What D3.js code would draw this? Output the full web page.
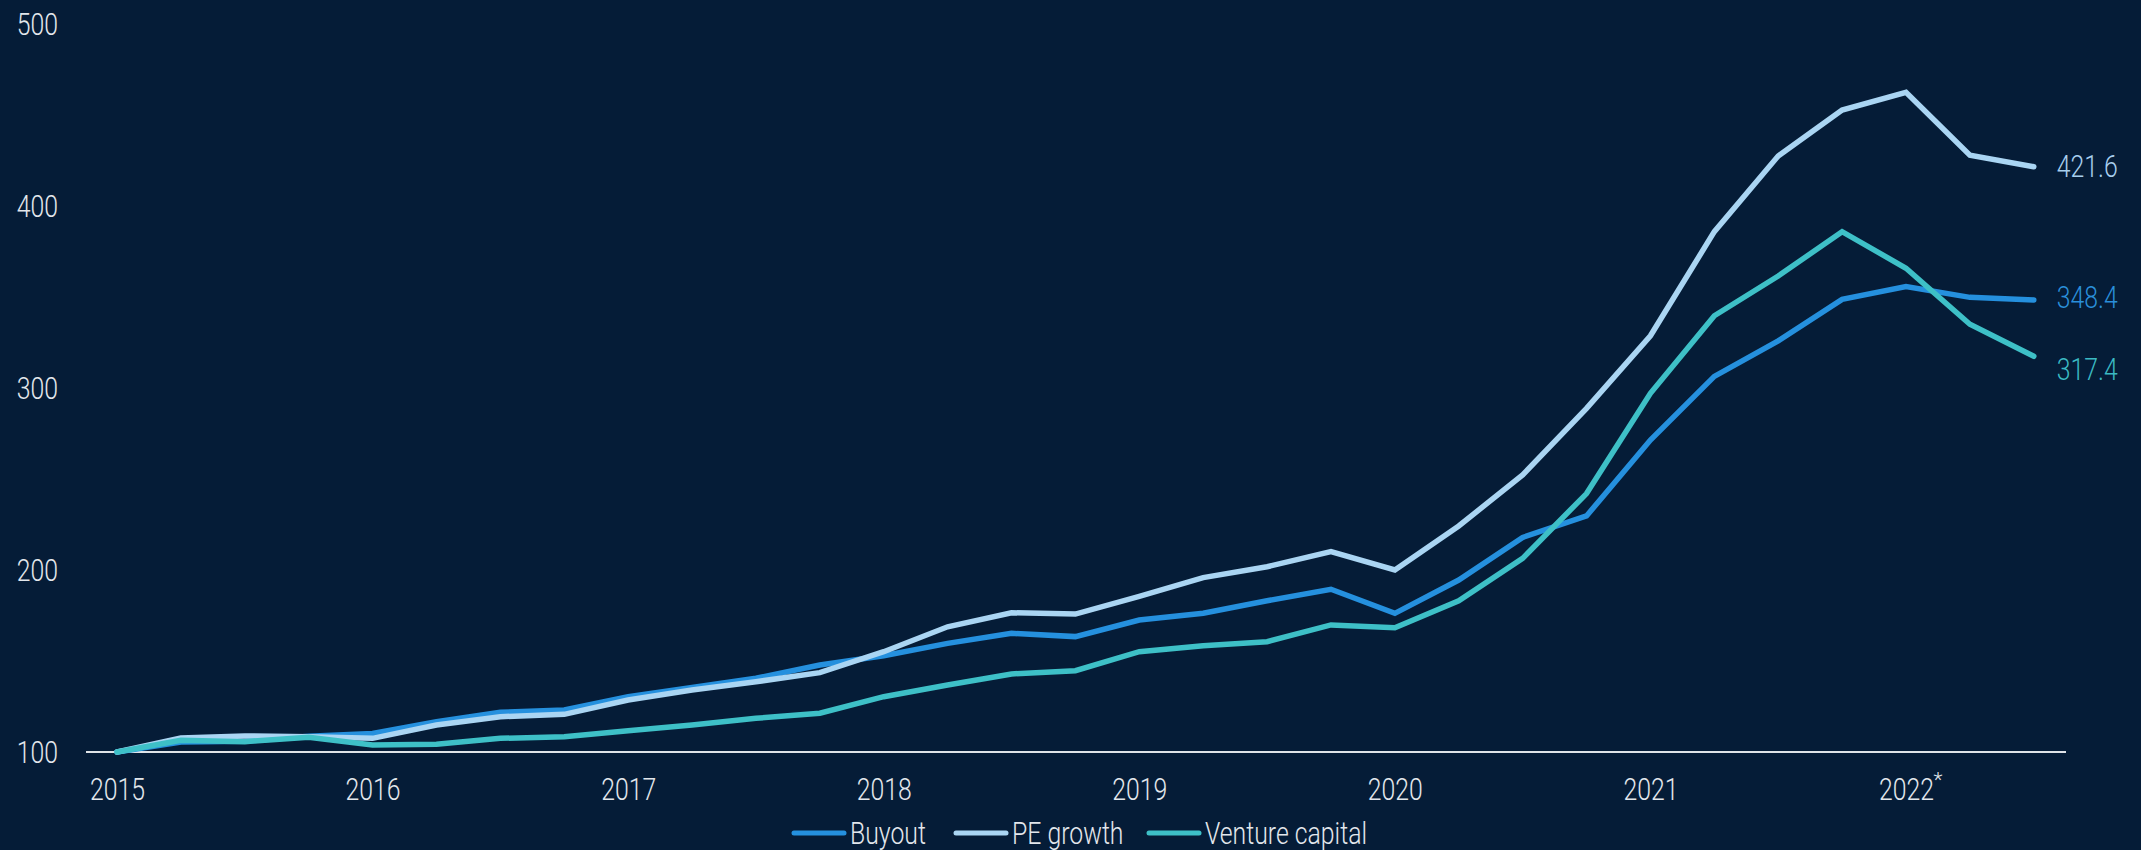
<!DOCTYPE html>
<html>
<head>
<meta charset="utf-8">
<script src="https://cdn.jsdelivr.net/npm/d3@7"></script>
<style>
  html, body { margin: 0; padding: 0; background: #051c37; }
  svg { display: block; }
  text { font-family: Roboto, "Liberation Sans", sans-serif; font-weight: 300; }
</style>
</head>
<body>
<svg id="chart" width="2141" height="850"></svg>
<script>
// Quarterly index, Q1 2015 = 100
const quarters = [
  "2015Q1","2015Q2","2015Q3","2015Q4",
  "2016Q1","2016Q2","2016Q3","2016Q4",
  "2017Q1","2017Q2","2017Q3","2017Q4",
  "2018Q1","2018Q2","2018Q3","2018Q4",
  "2019Q1","2019Q2","2019Q3","2019Q4",
  "2020Q1","2020Q2","2020Q3","2020Q4",
  "2021Q1","2021Q2","2021Q3","2021Q4",
  "2022Q1","2022Q2","2022Q3"
];

const buyout = [
  100, 105.5, 105.9, 108.6, 110.2, 116.7, 121.8, 123.1,
  130.4, 135.5, 140.5, 147.8, 152.9, 159.7, 165.2, 163.4,
  172.5, 176.2, 183.1, 189.4, 176.2, 194.5, 217.9, 229.7,
  271.4, 306.4, 325.9, 348.7, 355.7, 349.8, 348.4
];

const peGrowth = [
  100, 107.7, 108.8, 108.4, 107.5, 114.8, 119.4, 120.7,
  128.6, 134.1, 138.6, 143.6, 155.1, 168.8, 176.5, 175.8,
  185.5, 195.8, 201.8, 210.1, 200.0, 224.2, 252.2, 288.8,
  328.7, 385.9, 427.5, 452.7, 462.5, 427.9, 421.6
];

const ventureCapital = [
  100, 106.4, 105.7, 108.1, 103.8, 104.2, 107.5, 108.4,
  111.7, 114.8, 118.5, 121.3, 130.4, 136.8, 142.9, 144.7,
  155.1, 158.4, 160.6, 169.8, 168.3, 183.1, 206.4, 242.0,
  297.1, 339.7, 361.5, 385.9, 365.8, 335.0, 317.4
];

const seriesNames = ["Buyout", "PE growth", "Venture capital"];
const yearTicks = [2015, 2016, 2017, 2018, 2019, 2020, 2021, 2022];
const yearTickLabels = ["2015", "2016", "2017", "2018", "2019", "2020", "2021", "2022"];
const yearFootnotes = ["", "", "", "", "", "", "", "*"];
const valueTicks = [100, 200, 300, 400, 500];

const colors = {
  "Buyout": "#2590de",
  "PE growth": "#aad5f3",
  "Venture capital": "#3ec0c7"
};
const labelColors = {
  "Buyout": "#2a8fda",
  "PE growth": "#a8cfee",
  "Venture capital": "#3bbac3"
};
const textColor = "#e3e7ec";
const FONT_SIZE = 31;
const NARROW = 0.8;           // horizontal squeeze for the condensed look
const squeeze = `scale(${NARROW},1)`;

const svg = d3.select("#chart");

// quarter label -> fractional year
const toYear = q => +q.slice(0, 4) + (+q.slice(5) - 1) / 4;

const x = d3.scaleLinear().domain([2015, 2022]).range([117, 1906]);
const y = d3.scaleLinear().domain([100, 500]).range([752, 24]);

const series = [
  { name: seriesNames[0], values: buyout },
  { name: seriesNames[1], values: peGrowth },
  { name: seriesNames[2], values: ventureCapital }
].map(s => ({
  name: s.name,
  points: s.values.map((v, i) => ({ t: toYear(quarters[i]), v }))
}));

// y axis labels (no tick marks)
const yAxis = d3.axisLeft(y).tickValues(valueTicks).tickSize(0).tickPadding(0);
const gy = svg.append("g").attr("transform", "translate(58,0)").call(yAxis);
gy.select(".domain").remove();
gy.attr("font-family", null).attr("font-size", null);
gy.selectAll("text")
  .attr("fill", textColor)
  .attr("font-size", FONT_SIZE)
  .attr("dy", null)
  .attr("x", 0)
  .attr("y", 10)
  .attr("transform", squeeze)
  .attr("text-anchor", "end");

// baseline at 100
svg.append("line")
  .attr("x1", 86).attr("x2", 2066)
  .attr("y1", y(100)).attr("y2", y(100))
  .attr("stroke", "#dfe3e8")
  .attr("stroke-width", 2);

// x axis labels
const xAxis = d3.axisBottom(x)
  .tickValues(yearTicks)
  .tickFormat((d, i) => yearTickLabels[i])
  .tickSize(0).tickPadding(0);
const gx = svg.append("g").attr("transform", "translate(0,800)").call(xAxis);
gx.select(".domain").remove();
gx.attr("font-family", null).attr("font-size", null);
gx.selectAll("text")
  .attr("fill", textColor)
  .attr("font-size", FONT_SIZE)
  .attr("dy", null)
  .attr("y", 0)
  .attr("transform", squeeze);

// footnote markers after the year labels
gx.selectAll(".tick")
  .each(function (d) {
    const mark = yearFootnotes[yearTicks.indexOf(d)];
    if (!mark) return;
    d3.select(this).append("text")
      .attr("x", 27).attr("y", -13)
      .attr("fill", textColor)
      .attr("font-size", 21)
      .attr("text-anchor", "start")
      .text(mark);
  });

// lines
const line = d3.line().x(d => x(d.t)).y(d => y(d.v));
svg.append("g")
  .selectAll("path")
  .data(series)
  .join("path")
  .attr("d", d => line(d.points))
  .attr("fill", "none")
  .attr("stroke", d => colors[d.name])
  .attr("stroke-width", 5.5)
  .attr("stroke-linecap", "round")
  .attr("stroke-linejoin", "miter");

// end-of-line value labels
const labelNudge = { "Buyout": -3, "PE growth": -1, "Venture capital": 13 };
svg.append("g")
  .selectAll("g")
  .data(series)
  .join("g")
  .attr("transform", d => {
    const last = d.points[d.points.length - 1];
    return `translate(${x(last.t) + 23},${y(last.v) + labelNudge[d.name] + 11})`;
  })
  .append("text")
  .attr("transform", squeeze)
  .attr("fill", d => labelColors[d.name])
  .attr("font-size", FONT_SIZE)
  .text(d => d3.format(".1f")(d.points[d.points.length - 1].v));

// legend
const legend = svg.append("g").attr("transform", "translate(0,833)");
const legendItems = [
  { name: seriesNames[0], x0: 794 },
  { name: seriesNames[1], x0: 956 },
  { name: seriesNames[2], x0: 1149 }
];
const li = legend.selectAll("g").data(legendItems).join("g")
  .attr("transform", d => `translate(${d.x0},0)`);
li.append("line")
  .attr("x1", 0).attr("x2", 50)
  .attr("y1", 0).attr("y2", 0)
  .attr("stroke", d => colors[d.name])
  .attr("stroke-width", 5)
  .attr("stroke-linecap", "round");
li.append("g")
  .attr("transform", "translate(56,10.5)")
  .append("text")
  .attr("transform", squeeze)
  .attr("fill", textColor)
  .attr("font-size", FONT_SIZE)
  .text(d => d.name);
</script>
</body>
</html>
